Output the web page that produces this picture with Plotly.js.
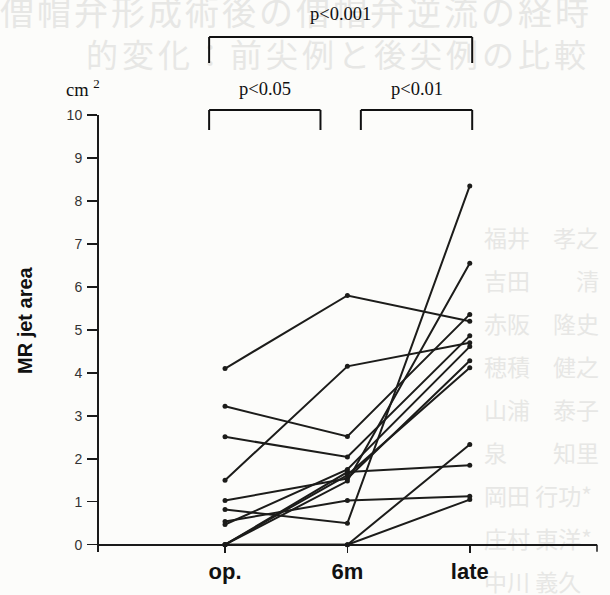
<!DOCTYPE html>
<html>
<head>
<meta charset="utf-8">
<script src="https://cdn.plot.ly/plotly-3.0.1.min.js"></script>
<style>
  html, body { margin:0; padding:0; background:#fcfcfa; }
  #wrap { position:relative; width:610px; height:595px; overflow:hidden; }
  #bg { position:absolute; left:0; top:0; width:610px; height:595px; color:#e7e7e5;
        font-family:"Noto Sans CJK JP", sans-serif; }
  #bg div { position:absolute; white-space:nowrap; line-height:1; }
  #chart { position:absolute; left:0; top:0; width:610px; height:595px; }
</style>
</head>
<body>
<div id="wrap">
  <div id="bg">
    <div style="left:0px; top:-6px; font-size:34px; letter-spacing:3px;">僧帽弁形成術後の僧帽弁逆流の経時</div>
    <div style="left:86px; top:37px; font-size:32px; letter-spacing:4px;">的変化：前尖例と後尖例の比較</div>
    <div style="left:484px; top:226px; font-size:23px;">福井　孝之</div>
    <div style="left:484px; top:269px; font-size:23px;">吉田　　清</div>
    <div style="left:484px; top:312px; font-size:23px;">赤阪　隆史</div>
    <div style="left:484px; top:355px; font-size:23px;">穂積　健之</div>
    <div style="left:484px; top:398px; font-size:23px;">山浦　泰子</div>
    <div style="left:484px; top:441px; font-size:23px;">泉　　知里</div>
    <div style="left:484px; top:484px; font-size:23px;">岡田 行功*</div>
    <div style="left:484px; top:527px; font-size:23px;">庄村 東洋*</div>
    <div style="left:484px; top:570px; font-size:23px;">中川 義久</div>
  </div>
  <div id="chart"></div>
</div>
<script>
// Categories (time points)
const categories = ['op.', '6m', 'late'];
// MR jet area (cm^2) for each patient at op., 6m, late
const patient01 = [4.10, 5.80, 5.20];
const patient02 = [1.50, 4.15, 4.70];
const patient03 = [3.22, 2.52, 5.36];
const patient04 = [2.51, 2.04, 4.86];
const patient05 = [1.03, 1.54, 4.28];
const patient06 = [0.82, 0.50, 8.35];
const patient07 = [0.54, 1.03, 1.13];
const patient08 = [0.47, 1.75, 4.61];
const patient09 = [0.00, 1.69, 1.85];
const patient10 = [0.00, 1.48, 6.55];
const patient11 = [0.00, 1.62, 4.12];
const patient12 = [0.00, 0.00, 2.33];
const patient13 = [0.00, 0.00, 1.05];
const patients = [patient01, patient02, patient03, patient04, patient05, patient06, patient07,
                  patient08, patient09, patient10, patient11, patient12, patient13];
// Y tick labels
const yTicks = [0,1,2,3,4,5,6,7,8,9,10];
// Significance labels
const sigLabels = ['p<0.05', 'p<0.01', 'p<0.001'];

const xIdx = categories.map((c, i) => i);
const lineColor = '#1c1c1a';

const traces = patients.map(p => ({
  type: 'scatter', mode: 'lines+markers',
  x: xIdx, y: p,
  line: {color: lineColor, width: 2},
  marker: {color: lineColor, size: 5},
  cliponaxis: false,
  hoverinfo: 'skip'
}));

// Layout geometry
const L = 99, R = 13, T = 115, B = 43;
const W = 610, H = 595;
const pw = W - L - R, ph = H - T - B;
const xr = [-1.03, 3.04];
const yr = [-0.17, 10];
const px = v => (v - xr[0]) / (xr[1] - xr[0]);            // x data -> paper
const py = pix => (H - B - pix) / ph;                      // pixel y -> paper
const pxp = pix => (pix - L) / pw;                         // pixel x -> paper
const axisPos = (0 - yr[0]) / (yr[1] - yr[0]);

const serif = 'Liberation Serif, Times New Roman, serif';
const sans = 'Liberation Sans, Arial, Helvetica, sans-serif';

// brackets: [from category, to category, label]
const brackets = [
  {a: 0, b: 1, lab: sigLabels[0], top: 110, bot: 130, ly: 89, lo: -0.13, ro: -0.22},
  {a: 1, b: 2, lab: sigLabels[1], top: 110, bot: 130, ly: 89, lo: 0.11, ro: 0.02},
  {a: 0, b: 2, lab: sigLabels[2], top: 37, bot: 63, ly: 14, lo: -0.13, ro: 0.02}
];
const shapes = [];
const annotations = [];
brackets.forEach(br => {
  const x0 = px(br.a + br.lo), x1 = px(br.b + br.ro);
  const yt = py(br.top), yb = py(br.bot);
  const st = {type: 'line', xref: 'paper', yref: 'paper', line: {color: '#111', width: 2}};
  shapes.push(Object.assign({}, st, {x0: x0, x1: x1, y0: yt, y1: yt}));
  shapes.push(Object.assign({}, st, {x0: x0, x1: x0, y0: yt, y1: yb}));
  shapes.push(Object.assign({}, st, {x0: x1, x1: x1, y0: yt, y1: yb}));
  annotations.push({xref: 'paper', yref: 'paper', x: (x0 + x1) / 2, y: py(br.ly),
    text: br.lab, showarrow: false, xanchor: 'center', yanchor: 'middle',
    font: {family: serif, size: 18.5, color: '#111'}});
});
// end tick at the right end of the x axis
shapes.push({type: 'line', xref: 'paper', yref: 'paper', x0: 1, x1: 1,
  y0: axisPos, y1: axisPos - 7 / ph, line: {color: '#1a1a1a', width: 1.5}});

annotations.push({xref: 'paper', yref: 'paper', x: pxp(64), y: py(88), xanchor: 'left', yanchor: 'middle',
  text: 'cm <sup>2</sup>', showarrow: false, font: {family: serif, size: 18.5, color: '#111'}});
annotations.push({xref: 'paper', yref: 'paper', x: pxp(25), y: py(320), xanchor: 'center', yanchor: 'middle',
  text: '<b>MR jet area</b>', textangle: -90, showarrow: false, font: {family: sans, size: 20, color: '#111'}});

const layout = {
  width: W, height: H,
  margin: {l: L, r: R, t: T, b: B, pad: 0},
  paper_bgcolor: 'rgba(0,0,0,0)', plot_bgcolor: 'rgba(0,0,0,0)',
  showlegend: false,
  xaxis: {
    range: xr, anchor: 'free', position: axisPos,
    tickmode: 'array', tickvals: xIdx, ticktext: categories,
    showline: true, linecolor: '#1a1a1a', linewidth: 2,
    ticks: 'outside', ticklen: 7, tickwidth: 1.5, tickcolor: '#1a1a1a',
    showgrid: false, zeroline: false, ticklabelstandoff: 0,
    tickfont: {family: sans, size: 22, weight: 'bold', color: '#111'}
  },
  yaxis: {
    range: yr, tickmode: 'array', tickvals: yTicks, ticktext: yTicks.map(String),
    showline: true, linecolor: '#1a1a1a', linewidth: 2,
    ticks: 'outside', ticklen: 10, tickwidth: 1.5, tickcolor: '#1a1a1a',
    showgrid: false, zeroline: false, ticklabelstandoff: 2,
    tickfont: {family: sans, size: 14, color: '#333'}
  },
  shapes: shapes,
  annotations: annotations
};

Plotly.newPlot('chart', traces, layout, {displayModeBar: false, staticPlot: true});
</script>
</body>
</html>
